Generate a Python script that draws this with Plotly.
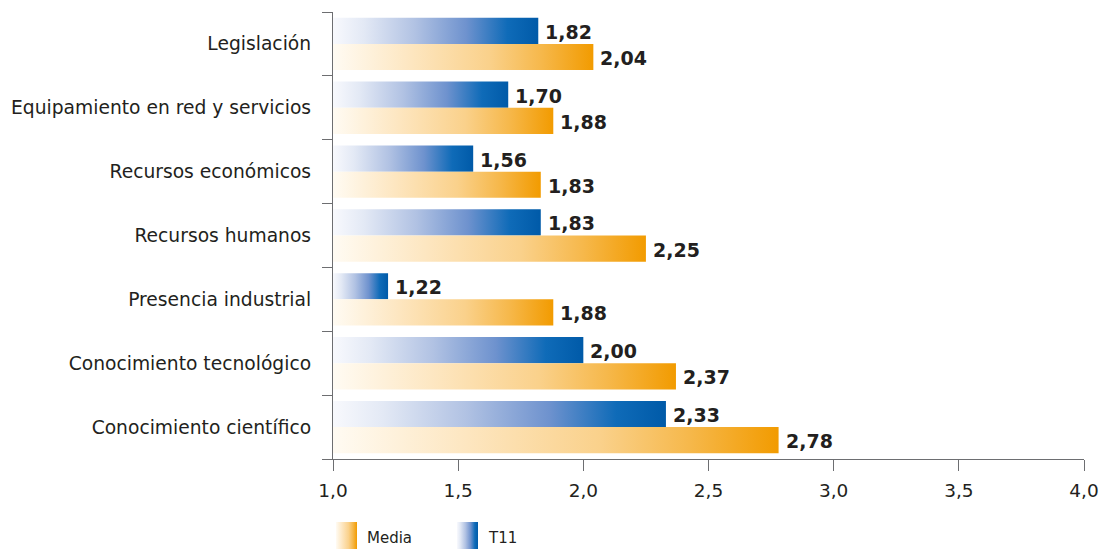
import base64
import plotly.graph_objects as go

# Data (top to bottom as displayed)
categories = [
    "Legislación",
    "Equipamiento en red y servicios",
    "Recursos económicos",
    "Recursos humanos",
    "Presencia industrial",
    "Conocimiento tecnológico",
    "Conocimiento científico",
]
t11 = [1.82, 1.70, 1.56, 1.83, 1.22, 2.00, 2.33]
media = [2.04, 1.88, 1.83, 2.25, 1.88, 2.37, 2.78]
x_ticks = [1.0, 1.5, 2.0, 2.5, 3.0, 3.5, 4.0]

BASE = 1.0
BAR_H = 0.41
W, H = 1105, 549
ML, MR, MT, MB = 333, 21, 12, 90

BLUE_SCALE = [[0, "#f8f9fd"], [0.15, "#e3e9f5"], [0.4, "#b1c2e3"],
              [0.65, "#6e92ce"], [0.85, "#0f6bb8"], [1, "#005aa8"]]
ORANGE_SCALE = [[0, "#fffbf3"], [0.3, "#fde6c0"], [0.6, "#fad18b"],
                [0.8, "#f6b84b"], [1, "#f29b00"]]
TEXT = "#231f20"
AXIS = "#6d6e71"
FONT = "DejaVu Sans, Verdana, sans-serif"

n = len(categories)
ypos = [n - 1 - i for i in range(n)]

fig = go.Figure()
annotations = []


def add_bar(value, y0, y1, scale):
    fig.add_trace(go.Scatter(
        x=[BASE, value, value, BASE, BASE],
        y=[y0, y0, y1, y1, y0],
        mode="lines", line=dict(width=0),
        fill="toself",
        fillgradient=dict(type="horizontal", colorscale=scale),
        hoverinfo="skip", showlegend=False,
    ))


def fmt(v, d=2):
    return f"{v:.{d}f}".replace(".", ",")


for y, b, o in zip(ypos, t11, media):
    add_bar(b, y, y + BAR_H, BLUE_SCALE)
    add_bar(o, y - BAR_H, y, ORANGE_SCALE)
    for v, yc in ((b, y + BAR_H / 2), (o, y - BAR_H / 2)):
        annotations.append(dict(
            x=v, y=yc, xref="x", yref="y", text=fmt(v),
            showarrow=False, xanchor="left", yanchor="middle",
            xshift=5, yshift=-1,
            font=dict(family=FONT, size=19, color=TEXT, weight="bold"),
        ))


# Legend swatches drawn as small gradient images below the axis
def px_x(px):
    return (px - ML) / (W - ML - MR)


def px_y(py):
    return (H - MB - py) / (H - MT - MB)


def swatch(stops):
    grad = "".join(
        f'<stop offset="{s}" stop-color="{c}"/>' for s, c in stops)
    svg = ('<svg xmlns="http://www.w3.org/2000/svg" width="21" height="27" '
           'viewBox="0 0 21 27" preserveAspectRatio="none">'
           f'<defs><linearGradient id="g" x1="0" x2="1" y1="0" y2="0">{grad}'
           '</linearGradient></defs>'
           '<rect x="0" y="0" width="21" height="27" fill="url(#g)"/></svg>')
    return "data:image/svg+xml;base64," + base64.b64encode(svg.encode()).decode()


legend_items = [("Media", ORANGE_SCALE, 336), ("T11", BLUE_SCALE, 457)]
images = []
for name, scale, px in legend_items:
    images.append(dict(
        source=swatch(scale), xref="paper", yref="paper",
        x=px_x(px), y=px_y(522), sizex=21 / (W - ML - MR),
        sizey=27 / (H - MT - MB), xanchor="left", yanchor="top",
        sizing="stretch", layer="above",
    ))
    annotations.append(dict(
        x=px_x(px + 29), y=px_y(538), xref="paper", yref="paper",
        text=name, showarrow=False, xanchor="left", yanchor="middle",
        font=dict(family=FONT, size=15, color=TEXT),
    ))

fig.update_layout(
    width=W, height=H,
    margin=dict(l=ML, r=MR, t=MT, b=MB, pad=0, autoexpand=False),
    paper_bgcolor="white", plot_bgcolor="white",
    separators=",.",
    showlegend=False,
    annotations=annotations,
    images=images,
    font=dict(family=FONT, size=18, color=TEXT),
    xaxis=dict(
        range=[1.0, 4.0], tickvals=x_ticks, tickformat=".1f",
        showgrid=False, zeroline=False, automargin=False,
        showline=True, linecolor=AXIS, linewidth=1.3,
        ticks="outside", ticklen=11, tickwidth=1.3, tickcolor=AXIS,
        tickfont=dict(family=FONT, size=18.5, color=TEXT),
        ticklabelstandoff=4,
    ),
    yaxis=dict(
        range=[-0.5, n - 0.5], tickvals=ypos, ticktext=categories,
        showgrid=False, zeroline=False, automargin=False,
        showline=True, linecolor=AXIS, linewidth=1.3,
        ticks="",
        minor=dict(tickmode="linear", tick0=-0.5, dtick=1,
                   ticks="outside", ticklen=10, tickwidth=1.3,
                   tickcolor=AXIS, showgrid=False),
        tickfont=dict(family=FONT, size=18.7, color=TEXT),
        ticklabelstandoff=17,
    ),
)

fig.write_html("out.html")
